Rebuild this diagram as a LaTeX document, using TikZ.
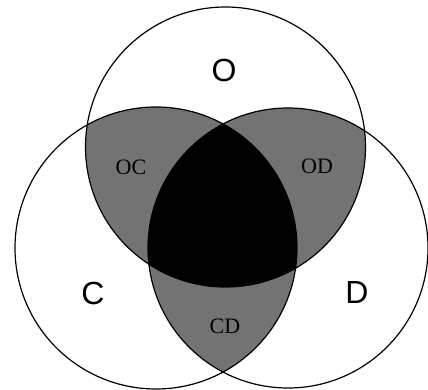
\documentclass[tikz,border=0pt]{standalone}
\usepackage{fontspec}
\setmainfont{Liberation Serif}
\setsansfont{Liberation Sans}

\begin{document}
\begin{tikzpicture}[x=1pt,y=-1pt,
    setlabel/.style={font=\sffamily\fontsize{32}{32}\selectfont},
    pairlabel/.style={font=\rmfamily\fontsize{22}{22}\selectfont},
    overlap/.style={fill=black!55},
    core/.style={fill=black},
    ring/.style={draw,line width=1.2pt}
]
\useasboundingbox (0,0) rectangle (428,390);
\coordinate (o) at (225.5,147);
\coordinate (c) at (156,248);
\coordinate (d) at (288,248);
\begin{scope}
  \clip (o) circle (140pt);
  \fill[overlap] (c) circle (141pt);
  \fill[overlap] (d) circle (140pt);
\end{scope}
\begin{scope}
  \clip (c) circle (141pt);
  \fill[overlap] (d) circle (140pt);
\end{scope}
\begin{scope}
  \clip (o) circle (140pt);
  \clip (c) circle (141pt);
  \fill[core] (d) circle (140pt);
\end{scope}
\draw[ring] (o) circle (140pt);
\draw[ring] (c) circle (141pt);
\draw[ring] (d) circle (140pt);
\node[setlabel] (setO) at (224,70) {O};
\node[setlabel] (setC) at (93,293) {C};
\node[setlabel] (setD) at (357,292) {D};
\node[pairlabel] (pairOC) at (131,167) {OC};
\node[pairlabel] (pairOD) at (317,166) {OD};
\node[pairlabel] (pairCD) at (225,326) {CD};
\end{tikzpicture}
\end{document}
